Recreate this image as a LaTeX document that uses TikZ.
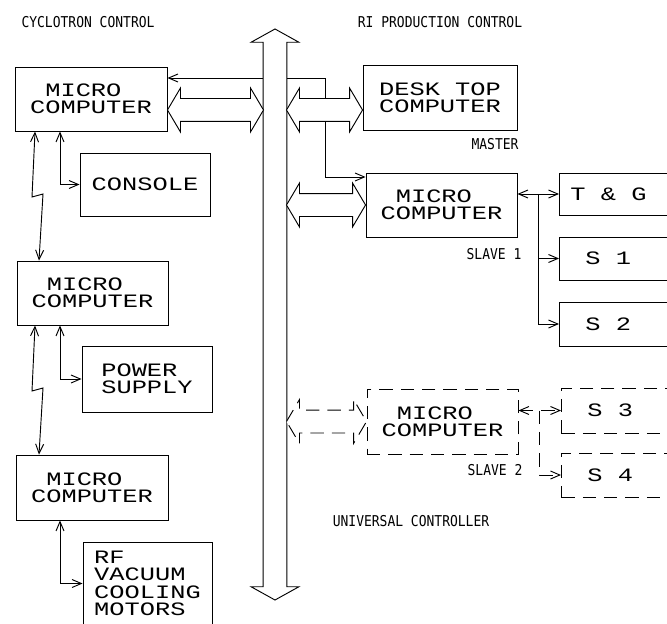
\documentclass[tikz,border=0pt]{standalone}
\usepackage{fontspec}
\usetikzlibrary{arrows.meta, calc, shapes.arrows}

\newfontfamily\plotfont[FakeStretch=1.34]{Liberation Mono}
\newfontfamily\tagfont[FakeStretch=0.87]{DejaVu Sans Mono}
\newcommand{\chsp}{\hphantom{M}}
\newcommand{\mcomp}{\chsp MICRO\\COMPUTER}

% hollow bus arrow between two points on one level
\newcommand{\fatarrow}[3][]{%
  \draw[fat,#1] let \p1=#2, \p2=#3 in
    (\x1,\y1) -- (\x1+9.75pt,\y1+16.5pt) -- (\x1+9.75pt,\y1+8.6pt)
    -- (\x2-9.75pt,\y1+8.6pt) -- (\x2-9.75pt,\y1+16.5pt) -- (\x2,\y1)
    -- (\x2-9.75pt,\y1-16.5pt) -- (\x2-9.75pt,\y1-8.6pt)
    -- (\x1+9.75pt,\y1-8.6pt) -- (\x1+9.75pt,\y1-16.5pt) -- cycle;}

\begin{document}
\begin{tikzpicture}[
  x=0.75pt, y=-0.75pt,
  line width=0.7pt,
  >={Straight Barb[length=7pt,width=6pt]},
  box/.style={draw, inner sep=0pt, align=center,
    font=\plotfont\fontsize{14.2pt}{12.9pt}\selectfont},
  lbox/.style={box, align=left},
  rbox/.style={box, anchor=west, align=left, text width=100pt},
  ghost/.style={dash pattern=on 10pt off 6pt},
  tag/.style={inner sep=1pt, font=\tagfont\fontsize{11.2pt}{13pt}\selectfont},
  fat/.style={draw, fill=white, line join=miter},
  bus/.style={double arrow, draw, fill=white, rotate=90,
    minimum height=428.25pt, minimum width=0pt, inner xsep=0pt, inner ysep=8.6pt,
    double arrow head extend=9pt, double arrow tip angle=122}
]
\useasboundingbox (0,0) rectangle (667,624);
\clip (0,0) rectangle (667,624);

% cyclotron side
\node[tag] (cyc) at (88,22) {CYCLOTRON CONTROL};
\node[lbox, minimum width=114pt, minimum height=48pt] (mcA) at (91,99) {\mcomp};
\node[box, minimum width=97.5pt, minimum height=47.25pt] (console) at (145,184.5) {CONSOLE};
\node[lbox, minimum width=113.25pt, minimum height=48pt] (mcB) at (92.5,293) {\mcomp};
\node[lbox, minimum width=97.5pt, minimum height=49.5pt] (power) at (147,379) {POWER\\SUPPLY};
\node[lbox, minimum width=114pt, minimum height=48.75pt] (mcC) at (92,487.5) {\mcomp};
\node[lbox, minimum width=96.75pt, minimum height=62.25pt,
  font=\plotfont\fontsize{14.2pt}{13.1pt}\selectfont] (rf) at (147.5,583.5) {RF\\VACUUM\\COOLING\\MOTORS};

% RI production side
\node[tag] (ri) at (440,22) {RI PRODUCTION CONTROL};
\node[box, minimum width=115.5pt, minimum height=48.75pt] (desk) at (440,97.5) {DESK\chsp TOP\\COMPUTER};
\node[tag] (master) at (495,144) {MASTER};
\node[lbox, minimum width=113.25pt, minimum height=48pt] (mcS1) at (441.5,205) {\mcomp};
\node[tag] (sl1) at (494,254) {SLAVE 1};
\node[rbox, inner xsep=8.25pt, minimum height=31.5pt] (tg) at (559,194) {T\chsp\&\chsp G};
\node[rbox, inner xsep=19.5pt, minimum height=32.25pt] (s1) at (559,258.5) {S\chsp 1};
\node[rbox, inner xsep=19.5pt, minimum height=33pt] (s2) at (559,324) {S\chsp 2};

\node[lbox, ghost, minimum width=113.25pt, minimum height=48.75pt] (mcS2) at (442.5,421.5) {\mcomp};
\node[tag] (sl2) at (495,470) {SLAVE 2};
\node[rbox, ghost, inner xsep=19.5pt, minimum height=33.75pt] (s3) at (561,410.5) {S\chsp 3};
\node[rbox, ghost, inner xsep=19.5pt, minimum height=33pt] (s4) at (561,475) {S\chsp 4};
\node[tag] (univ) at (411,521) {UNIVERSAL CONTROLLER};

% line across the bus, master side
\draw[<->] (mcA.east |- 0,78) -- (325,78) -- (325,177) -- (mcS1.west |- 0,177);

% the bus
\node[bus] (bus) at (275,314.5) {};

\fatarrow{(mcA.east |- 0,110)}{($(bus.center |- 0,110)+(-11.5,0)$)}
\fatarrow{($(bus.center |- 0,110)+(11.5,0)$)}{(desk.west |- 0,110)}
\fatarrow{($(bus.center |- mcS1.west)+(11.5,0)$)}{(mcS1.west)}
\fatarrow[ghost]{($(bus.center |- mcS2.west)+(11.5,0)$)}{(mcS2.west)}

% cyclotron links
\draw[<->] (mcA.south -| 60,0) |- (console.west);
\draw[<->] (mcB.south -| 60,0) |- (power.west);
\draw[<->] (mcC.south -| 60,0) |- (rf.west);
\draw[<->] (mcA.south -| 35,0) -- (32,197) -- (43,194) -- (mcB.north -| 39,0);
\draw[<->] (mcB.south -| 35,0) -- (32,391) -- (43,388) -- (mcC.north -| 39,0);

% slave links
\coordinate (tap1) at ($(mcS1.east |- tg.west)!0.5!(tg.west)$);
\draw[<->] (mcS1.east |- tg.west) -- (tg.west);
\draw[->] (tap1) |- (s1.west);
\draw[->] (tap1) |- (s2.west);

\coordinate (tap2) at ($(mcS2.east |- s3.west)!0.5!(s3.west)$);
\draw[<->, ghost] (mcS2.east |- s3.west) -- (s3.west);
\draw[->, ghost] (tap2) |- (s4.west);
\end{tikzpicture}
\end{document}
